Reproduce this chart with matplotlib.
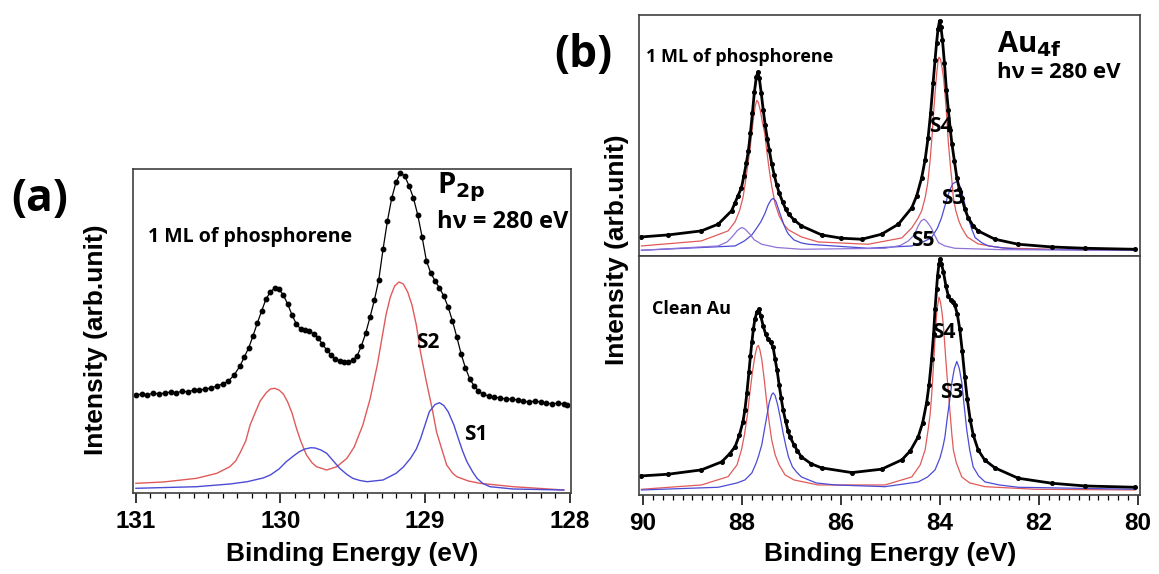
import numpy as np
import matplotlib.pyplot as plt
from matplotlib.ticker import MultipleLocator

W, H = 1159, 574

# ---- panel (a): P 2p, binding energy (eV) and intensity (arb.)
p2p_E = [131.00, 130.96, 130.92, 130.88, 130.84, 130.80, 130.76, 130.72, 130.68, 130.64,
         130.60, 130.56, 130.52, 130.48, 130.44, 130.40, 130.36, 130.32, 130.28, 130.25,
         130.22, 130.19, 130.16, 130.13, 130.10, 130.07, 130.04, 130.01, 129.98, 129.95,
         129.92, 129.89, 129.86, 129.83, 129.80, 129.77, 129.74, 129.71, 129.68, 129.65,
         129.62, 129.59, 129.56, 129.53, 129.50, 129.47, 129.44, 129.41, 129.38, 129.35,
         129.32, 129.29, 129.26, 129.23, 129.20, 129.17, 129.14, 129.11, 129.08, 129.05,
         129.02, 128.99, 128.96, 128.93, 128.90, 128.87, 128.84, 128.81, 128.78, 128.75,
         128.72, 128.69, 128.66, 128.63, 128.60, 128.56, 128.52, 128.48, 128.44, 128.40,
         128.36, 128.32, 128.28, 128.24, 128.20, 128.16, 128.12, 128.08, 128.04, 128.02]
p2p_I = [98, 99, 98, 100, 99, 100, 101, 100, 102, 101,
         103, 103, 104, 105, 107, 109, 112, 118, 127, 136,
         145, 157, 170, 182, 194, 201, 205, 204, 198, 189,
         178, 169, 164, 163, 162, 159, 155, 149, 143, 138,
         134, 132, 131, 131, 133, 137, 147, 160, 176, 193,
         213, 244, 272, 295, 311, 320, 317, 307, 295, 278,
         256, 232, 220, 212, 205, 197, 186, 172, 156, 139,
         125, 114, 107, 102, 99, 97, 96, 95, 94, 94,
         93, 92, 91, 92, 91, 90, 89, 90, 89, 88]

s2_E = [131.00, 130.81, 130.58, 130.44, 130.35, 130.31, 130.28, 130.24, 130.21, 130.17,
        130.14, 130.10, 130.07, 130.04, 130.01, 129.98, 129.95, 129.92, 129.89, 129.86,
        129.82, 129.78, 129.75, 129.68, 129.61, 129.54, 129.49, 129.43, 129.38, 129.33,
        129.30, 129.27, 129.24, 129.21, 129.18, 129.15, 129.12, 129.09, 129.06, 129.03,
        128.99, 128.95, 128.92, 128.88, 128.85, 128.81, 128.78, 128.70, 128.62, 128.39,
        128.04]
s2_I = [9.7, 11, 14.7, 19.7, 26.3, 32, 40, 52, 68, 82,
        92, 100, 104, 104.7, 103, 99, 91, 80, 65, 52,
        38, 30, 26.3, 23, 26.3, 34.7, 46, 68, 94, 128,
        153, 178, 196, 207, 211, 209, 201, 188, 168, 140,
        111, 84, 61, 42, 28, 20, 16.3, 12, 9.7, 6.3,
        3]

s1_E = [131.00, 130.58, 130.35, 130.23, 130.12, 130.07, 130.01, 129.96, 129.91, 129.87,
        129.83, 129.79, 129.76, 129.72, 129.68, 129.64, 129.59, 129.54, 129.50, 129.45,
        129.40, 129.29, 129.20, 129.15, 129.10, 129.06, 129.03, 129.00, 128.97, 128.93,
        128.90, 128.87, 128.84, 128.80, 128.77, 128.74, 128.71, 128.67, 128.64, 128.60,
        128.55, 128.39, 128.04]
s1_I = [4.7, 6.3, 9, 11.3, 15, 18, 24, 31.3, 37, 41.3,
        44, 45.3, 45, 43, 39.7, 33, 24.7, 18.5, 14.7, 12.5,
        11.3, 13, 19.7, 26, 34.7, 44, 54.7, 68, 81.3, 88.5,
        90.3, 87.5, 81.3, 68, 54.7, 42, 31.3, 21, 14.7, 9.5,
        6.3, 4, 3]

# ---- panel (b) top: Au 4f, 1 ML phosphorene
au1_E = [90.03, 89.49, 88.82, 88.48, 88.21, 88.14, 88.08, 88.01, 87.96, 87.91,
         87.87, 87.83, 87.79, 87.75, 87.71, 87.68, 87.65, 87.61, 87.57, 87.53,
         87.49, 87.45, 87.40, 87.35, 87.30, 87.25, 87.18, 87.12, 87.06, 86.95,
         86.80, 86.39, 85.99, 85.58, 85.18, 84.84, 84.57, 84.47, 84.37, 84.30,
         84.24, 84.19, 84.14, 84.10, 84.07, 84.04, 84.01, 83.98, 83.95, 83.91,
         83.87, 83.83, 83.79, 83.76, 83.71, 83.66, 83.61, 83.56, 83.50, 83.43,
         83.33, 83.23, 82.89, 82.42, 81.74, 81.07, 80.06]
au1_I = [19, 21, 25, 31.7, 45, 53, 60, 68, 80, 93,
         105, 122, 142, 163, 178, 183, 177, 162, 145, 130,
         117, 106, 92, 81, 71, 63, 54, 47, 42, 36,
         30, 21, 17.7, 16.7, 21.7, 31.7, 48, 60, 78, 96,
         118, 142, 172, 195, 212, 226, 234, 228, 215, 192,
         165, 145, 125, 112, 95, 78, 67, 58, 47, 38,
         30, 25, 16.7, 11.7, 9, 7.7, 6.7]

s4a_E = [90.03, 88.82, 88.28, 88.14, 88.05, 87.98, 87.92, 87.87, 87.84, 87.80,
         87.76, 87.73, 87.70, 87.67, 87.63, 87.59, 87.54, 87.50, 87.45, 87.40,
         87.33, 87.25, 87.15, 87.06, 86.80, 86.46, 85.45, 84.77, 84.57, 84.44,
         84.37, 84.30, 84.25, 84.20, 84.16, 84.13, 84.10, 84.07, 84.04, 84.02,
         83.99, 83.96, 83.93, 83.90, 83.87, 83.83, 83.79, 83.76, 83.73, 83.68,
         83.62, 83.56, 83.45, 83.23, 82.75, 81.41, 80.06]
s4a_I = [10, 15, 25, 34, 45, 58, 77, 95, 105, 124,
         140, 150, 155, 153, 145, 134, 122, 105, 86, 70,
         52, 40, 31, 26, 19, 14, 11.7, 18, 28, 38,
         45, 58, 72, 95, 120, 142, 162, 180, 194, 198,
         196, 188, 178, 162, 143, 112, 90, 75, 58, 45,
         35, 28, 19, 12, 8, 6.3, 5.7]

s3a_E = [90.03, 88.14, 87.95, 87.80, 87.70, 87.62, 87.54, 87.47, 87.41, 87.37,
         87.32, 87.27, 87.23, 87.16, 87.10, 87.06, 86.95, 86.80, 86.66, 85.45,
         84.57, 84.30, 84.17, 84.05, 83.97, 83.90, 83.84, 83.80, 83.74, 83.66,
         83.60, 83.55, 83.49, 83.43, 83.36, 83.29, 83.15, 83.02, 82.70, 82.42,
         80.06]
s3a_I = [5.7, 10, 15, 21, 28, 34, 42, 51, 56, 57.3,
         55, 48, 42, 32, 25, 21.7, 16, 13, 11.7, 7.7,
         10, 15, 18.3, 28, 38, 50, 60, 66, 72, 74.3,
         70, 62, 50, 38, 27, 18.3, 13, 10, 8, 6.7,
         5.7]

s5_E = [90.03, 88.48, 88.30, 88.20, 88.10, 88.04, 87.99, 87.93, 87.84, 87.75,
        87.60, 87.30, 86.80, 85.11, 84.80, 84.64, 84.52, 84.44, 84.38, 84.32,
        84.26, 84.18, 84.10, 84.03, 83.90, 83.70, 82.75, 80.06]
s5_I = [5.7, 10, 14, 19, 25, 27.5, 28.3, 26.5, 21.7, 16,
        11.7, 8.5, 6.7, 7.7, 10.5, 15, 21, 30, 35, 36.7,
        34, 28.3, 20, 13.3, 10, 7.7, 6.3, 5.7]

# ---- panel (b) bottom: clean Au
au0_E = [90.03, 89.49, 88.82, 88.41, 88.25, 88.14, 88.05, 87.98, 87.94, 87.90,
         87.86, 87.83, 87.80, 87.77, 87.74, 87.70, 87.66, 87.62, 87.57, 87.52,
         87.47, 87.42, 87.37, 87.33, 87.29, 87.25, 87.21, 87.17, 87.12, 87.07,
         87.03, 86.95, 86.88, 86.80, 86.60, 86.39, 85.78, 85.18, 84.77, 84.60,
         84.44, 84.35, 84.27, 84.22, 84.17, 84.13, 84.10, 84.07, 84.05, 84.02,
         84.00, 83.97, 83.93, 83.88, 83.83, 83.78, 83.74, 83.70, 83.65, 83.60,
         83.55, 83.50, 83.45, 83.39, 83.33, 83.23, 83.10, 82.89, 82.42, 81.74,
         81.07, 80.06]
au0_I = [19, 20.7, 25, 33, 41, 48, 60, 73, 85, 102,
         122, 138, 152, 165, 175, 182, 185, 178, 168, 160,
         155, 152, 147, 135, 124, 110, 97, 85, 74, 64,
         58, 50, 44, 38, 31, 27, 22.3, 25.7, 35, 44,
         58, 72, 92, 110, 135, 160, 185, 205, 218, 230,
         235, 230, 222, 208, 198, 194, 192, 189, 180, 165,
         143, 118, 96, 75, 60, 45, 35, 27, 16.7, 11.7,
         9, 7.7]

s4b_E = [90.03, 88.82, 88.28, 88.10, 88.01, 87.95, 87.89, 87.84, 87.79, 87.74,
         87.70, 87.67, 87.64, 87.60, 87.55, 87.50, 87.45, 87.40, 87.33, 87.25,
         87.13, 86.95, 86.46, 85.11, 84.57, 84.40, 84.30, 84.24, 84.20, 84.17,
         84.13, 84.09, 84.06, 84.02, 83.99, 83.96, 83.93, 83.89, 83.86, 83.83,
         83.79, 83.76, 83.73, 83.67, 83.56, 83.40, 83.09, 82.08, 80.06]
s4b_I = [5.7, 10, 18.3, 30, 45, 60, 80, 102, 122, 138,
         147, 149, 145, 135, 115, 92, 72, 55, 40, 30,
         20, 15, 10, 10, 18, 30, 45, 65, 80, 98,
         130, 165, 185, 197, 192, 182, 168, 140, 120, 102,
         78, 60, 45, 32, 18, 12, 8.3, 5.7, 5]

s3b_E = [90.03, 88.48, 88.10, 87.94, 87.80, 87.72, 87.67, 87.60, 87.55, 87.50,
         87.45, 87.40, 87.37, 87.33, 87.28, 87.23, 87.17, 87.11, 87.06, 86.98,
         86.90, 86.80, 86.50, 86.12, 85.11, 84.44, 84.25, 84.10, 84.00, 83.94,
         83.90, 83.85, 83.80, 83.76, 83.71, 83.66, 83.61, 83.56, 83.51, 83.46,
         83.40, 83.33, 83.22, 83.09, 82.80, 82.42, 80.06]
s3b_I = [5, 7.7, 12, 15, 22, 31, 38, 50, 64, 78,
         92, 100, 101.7, 99, 90, 78, 62, 48, 38, 28,
         23, 18, 12, 10, 8.3, 13, 18, 25, 37, 48,
         58, 78, 96, 112, 126, 133, 126, 112, 88, 65,
         45, 28, 19, 13, 10, 7.7, 5.7]

RED = '#e05a5a'
BLUE = '#4b4bd6'
PURPLE = '#8f72d8'
ARIAL = 'Liberation Sans'
CAL = 'Open Sans'


def fx(px):
    return px / W


def fy(py):
    return 1 - py / H


def style(ax, xmin, xmax, major, minor, ymax, labels=True):
    ax.set_xlim(xmin, xmax)
    ax.set_ylim(0, ymax)
    ax.xaxis.set_major_locator(MultipleLocator(major))
    ax.xaxis.set_minor_locator(MultipleLocator(minor))
    ax.set_yticks([])
    ax.tick_params(axis='x', which='major', direction='out', length=7, width=1.1,
                   labelsize=17.5, pad=5)
    ax.tick_params(axis='x', which='minor', direction='out', length=3.5, width=0.9)
    if not labels:
        ax.tick_params(axis='x', which='both', length=0, labelbottom=False)
    for sp in ax.spines.values():
        sp.set_color('#404040')
        sp.set_linewidth(1.2)


def bold_ticks(ax):
    for lab in ax.get_xticklabels():
        lab.set_fontweight('bold')
        lab.set_family(ARIAL)


fig = plt.figure(figsize=(W / 100, H / 100), dpi=100)

# panel (a)
axa = fig.add_axes([fx(133), fy(493), fx(571) - fx(133), fy(169) - fy(493)])
axa.plot(s2_E, s2_I, color=RED, lw=1.0)
axa.plot(s1_E, s1_I, color=BLUE, lw=1.0)
axa.plot(p2p_E, p2p_I, color='black', lw=0.9, marker='o', ms=3.2)
style(axa, 131.02, 127.99, 1, 0.1, 324)
axa.set_xticks([131, 130, 129, 128])
bold_ticks(axa)

# panel (b) top
axt = fig.add_axes([fx(639), fy(256), fx(1140) - fx(639), fy(15) - fy(256)])
axt.plot(s4a_E, s4a_I, color=RED, lw=0.9)
axt.plot(s3a_E, s3a_I, color=BLUE, lw=0.9)
axt.plot(s5_E, s5_I, color=PURPLE, lw=0.9)
axt.plot(au1_E, au1_I, color='black', lw=2.0, marker='o', ms=2.6)
style(axt, 90.08, 79.96, 2, 0.2, 240, labels=False)

# panel (b) bottom
axb = fig.add_axes([fx(639), fy(495), fx(1140) - fx(639), fy(256) - fy(495)])
axb.plot(s4b_E, s4b_I, color=RED, lw=0.9)
axb.plot(s3b_E, s3b_I, color=BLUE, lw=0.9)
axb.plot(au0_E, au0_I, color='black', lw=2.0, marker='o', ms=2.6)
style(axb, 90.08, 79.96, 2, 0.2, 238)
bold_ticks(axb)

# panel letters
fig.text(fx(40), fy(200), '(a)', fontsize=32, fontweight='bold', family=CAL,
         ha='center', va='center')
fig.text(fx(583), fy(55), '(b)', fontsize=32, fontweight='bold', family=CAL,
         ha='center', va='center')

lab_kw = dict(fontsize=19, fontweight='bold', family=ARIAL, ha='center', va='center')
fig.text(fx(352), fy(554), 'Binding Energy (eV)', **lab_kw)
fig.text(fx(890), fy(554), 'Binding Energy (eV)', **lab_kw)
fig.text(fx(96), fy(340), 'Intensity (arb.unit)', rotation=90, **lab_kw)
fig.text(fx(617), fy(250), 'Intensity (arb.unit)', rotation=90, **lab_kw)

t_kw = dict(fontweight='bold', family=CAL, va='center')
fig.text(fx(148), fy(237), '1 ML of phosphorene', fontsize=14, **t_kw)
fig.text(fx(437), fy(187), r'P$_{\mathbf{2p}}$', fontsize=21, **t_kw)
fig.text(fx(437), fy(222), 'hν = 280 eV', fontsize=17, **t_kw)
fig.text(fx(416), fy(343), 'S2', fontsize=15, **t_kw)
fig.text(fx(464), fy(435), 'S1', fontsize=15, **t_kw)

fig.text(fx(646), fy(57), '1 ML of phosphorene', fontsize=13, **t_kw)
fig.text(fx(997), fy(44), r'Au$_{\mathbf{4f}}$', fontsize=21, **t_kw)
fig.text(fx(997), fy(72), 'hν = 280 eV', fontsize=16, **t_kw)
fig.text(fx(929), fy(127), 'S4', fontsize=15, **t_kw)
fig.text(fx(941), fy(199), 'S3', fontsize=15, **t_kw)
fig.text(fx(911), fy(240), 'S5', fontsize=15, **t_kw)
fig.text(fx(652), fy(309), 'Clean Au', fontsize=13, **t_kw)
fig.text(fx(932), fy(333), 'S4', fontsize=15, **t_kw)
fig.text(fx(940), fy(393), 'S3', fontsize=15, **t_kw)

fig.savefig('out.png', dpi=100)
